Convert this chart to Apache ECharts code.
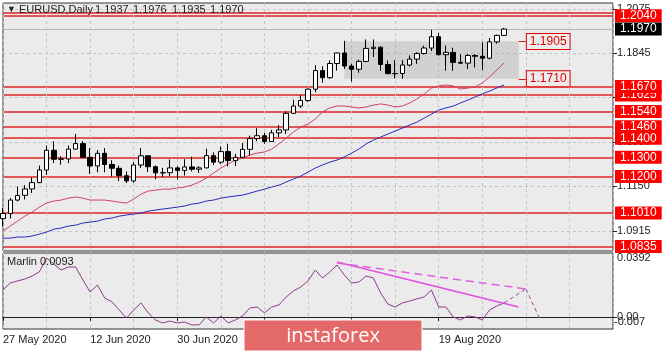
<!DOCTYPE html>
<html>
<head>
<meta charset="utf-8">
<script src="https://cdn.jsdelivr.net/npm/echarts@6/dist/echarts.min.js"></script>
<style>
html, body { margin: 0; padding: 0; background: #fff; }
#chart { width: 665px; height: 351px; }
</style>
</head>
<body>
<div id="chart"></div>
<script>
var categories = [
  "27 May 2020", "28 May 2020", "29 May 2020", "1 Jun 2020", "2 Jun 2020", "3 Jun 2020", "4 Jun 2020", "5 Jun 2020", "8 Jun 2020", "9 Jun 2020",
  "10 Jun 2020", "11 Jun 2020", "12 Jun 2020", "15 Jun 2020", "16 Jun 2020", "17 Jun 2020", "18 Jun 2020", "19 Jun 2020", "22 Jun 2020", "23 Jun 2020",
  "24 Jun 2020", "25 Jun 2020", "26 Jun 2020", "29 Jun 2020", "30 Jun 2020", "1 Jul 2020", "2 Jul 2020", "3 Jul 2020", "6 Jul 2020", "7 Jul 2020",
  "8 Jul 2020", "9 Jul 2020", "10 Jul 2020", "13 Jul 2020", "14 Jul 2020", "15 Jul 2020", "16 Jul 2020", "17 Jul 2020", "20 Jul 2020", "21 Jul 2020",
  "22 Jul 2020", "23 Jul 2020", "24 Jul 2020", "27 Jul 2020", "28 Jul 2020", "29 Jul 2020", "30 Jul 2020", "31 Jul 2020", "3 Aug 2020", "4 Aug 2020",
  "5 Aug 2020", "6 Aug 2020", "7 Aug 2020", "10 Aug 2020", "11 Aug 2020", "12 Aug 2020", "13 Aug 2020", "14 Aug 2020", "17 Aug 2020", "18 Aug 2020",
  "19 Aug 2020", "20 Aug 2020", "21 Aug 2020", "24 Aug 2020", "25 Aug 2020", "26 Aug 2020", "27 Aug 2020", "28 Aug 2020", "31 Aug 2020", "1 Sep 2020",
  "2 Sep 2020", "3 Sep 2020", "4 Sep 2020", "7 Sep 2020", "8 Sep 2020", "9 Sep 2020", "10 Sep 2020", "11 Sep 2020", "14 Sep 2020", "15 Sep 2020",
  "16 Sep 2020", "17 Sep 2020", "18 Sep 2020", "21 Sep 2020", "22 Sep 2020"
];
var lastBar = 69;

var opens = [
  1.0980, 1.1007, 1.1077, 1.1102, 1.1135, 1.1168, 1.1234, 1.1337, 1.1290, 1.1292,
  1.1343, 1.1372, 1.1300, 1.1255, 1.1321, 1.1263, 1.1243, 1.1204, 1.1177, 1.1260,
  1.1308, 1.1251, 1.1219, 1.1220, 1.1245, 1.1232, 1.1250, 1.1238, 1.1245, 1.1309,
  1.1275, 1.1330, 1.1283, 1.1300, 1.1342, 1.1398, 1.1413, 1.1383, 1.1428, 1.1443,
  1.1530, 1.1568, 1.1597, 1.1656, 1.1753, 1.1716, 1.1790, 1.1845, 1.1777, 1.1760,
  1.1801, 1.1869, 1.1875, 1.1785, 1.1737, 1.1738, 1.1782, 1.1813, 1.1842, 1.1871,
  1.1930, 1.1836, 1.1848, 1.1796, 1.1792, 1.1832, 1.1828, 1.1818, 1.1903, 1.1937
];
var highs = [
  1.1035, 1.1088, 1.1147, 1.1155, 1.1195, 1.1257, 1.1362, 1.1384, 1.1306, 1.1362,
  1.1422, 1.1385, 1.1348, 1.1338, 1.1348, 1.1285, 1.1257, 1.1226, 1.1275, 1.1349,
  1.1309, 1.1258, 1.1245, 1.1289, 1.1254, 1.1290, 1.1303, 1.1254, 1.1346, 1.1326,
  1.1357, 1.1371, 1.1318, 1.1375, 1.1413, 1.1452, 1.1428, 1.1444, 1.1469, 1.1540,
  1.1601, 1.1625, 1.1660, 1.1781, 1.1776, 1.1806, 1.1847, 1.1908, 1.1789, 1.1810,
  1.1916, 1.1916, 1.1881, 1.1806, 1.1807, 1.1808, 1.1832, 1.1849, 1.1883, 1.1966,
  1.1951, 1.1884, 1.1873, 1.1838, 1.1840, 1.1839, 1.1900, 1.1924, 1.1941, 1.1976
];
var lows = [
  1.0940, 1.0981, 1.1070, 1.1080, 1.1114, 1.1165, 1.1208, 1.1270, 1.1262, 1.1270,
  1.1341, 1.1300, 1.1214, 1.1222, 1.1222, 1.1200, 1.1176, 1.1166, 1.1168, 1.1244,
  1.1224, 1.1185, 1.1198, 1.1201, 1.1185, 1.1205, 1.1227, 1.1219, 1.1243, 1.1260,
  1.1264, 1.1253, 1.1255, 1.1297, 1.1309, 1.1385, 1.1371, 1.1380, 1.1404, 1.1422,
  1.1526, 1.1558, 1.1589, 1.1640, 1.1690, 1.1710, 1.1753, 1.1762, 1.1696, 1.1742,
  1.1796, 1.1824, 1.1752, 1.1735, 1.1712, 1.1711, 1.1775, 1.1788, 1.1837, 1.1856,
  1.1832, 1.1753, 1.1752, 1.1787, 1.1761, 1.1769, 1.1756, 1.1812, 1.1893, 1.1935
];
var closes = [
  1.1007, 1.1077, 1.1101, 1.1135, 1.1168, 1.1234, 1.1337, 1.1290, 1.1292, 1.1343,
  1.1372, 1.1300, 1.1255, 1.1321, 1.1263, 1.1243, 1.1204, 1.1177, 1.1260, 1.1308,
  1.1251, 1.1219, 1.1220, 1.1245, 1.1232, 1.1250, 1.1238, 1.1245, 1.1309, 1.1275,
  1.1330, 1.1283, 1.1300, 1.1342, 1.1398, 1.1413, 1.1383, 1.1428, 1.1443, 1.1530,
  1.1568, 1.1597, 1.1656, 1.1753, 1.1716, 1.1790, 1.1845, 1.1777, 1.1760, 1.1801,
  1.1869, 1.1875, 1.1785, 1.1737, 1.1738, 1.1782, 1.1813, 1.1842, 1.1871, 1.1930,
  1.1836, 1.1848, 1.1796, 1.1792, 1.1832, 1.1828, 1.1818, 1.1903, 1.1937, 1.1970
];

// moving averages
var maFast = [
  1.0915, 1.0941, 1.0967, 1.0993, 1.1014, 1.1040, 1.1061, 1.1072, 1.1077, 1.1087,
  1.1093, 1.1087, 1.1077, 1.1077, 1.1077, 1.1072, 1.1066, 1.1061, 1.1082, 1.1108,
  1.1124, 1.1129, 1.1134, 1.1134, 1.1140, 1.1145, 1.1155, 1.1171, 1.1192, 1.1218,
  1.1244, 1.1265, 1.1286, 1.1296, 1.1312, 1.1322, 1.1328, 1.1343, 1.1370, 1.1401,
  1.1432, 1.1458, 1.1474, 1.1500, 1.1537, 1.1558, 1.1568, 1.1568, 1.1563, 1.1558,
  1.1563, 1.1573, 1.1579, 1.1573, 1.1563, 1.1568, 1.1584, 1.1605, 1.1631, 1.1662,
  1.1673, 1.1678, 1.1673, 1.1657, 1.1662, 1.1667, 1.1688, 1.1720, 1.1756, 1.1793
];
var maSlow = [
  1.0878, 1.0878, 1.0884, 1.0884, 1.0889, 1.0899, 1.0910, 1.0925, 1.0931, 1.0941,
  1.0946, 1.0957, 1.0962, 1.0967, 1.0978, 1.0983, 1.0993, 1.0999, 1.1004, 1.1009,
  1.1019, 1.1025, 1.1030, 1.1035, 1.1040, 1.1046, 1.1056, 1.1061, 1.1072, 1.1077,
  1.1087, 1.1093, 1.1098, 1.1103, 1.1113, 1.1124, 1.1134, 1.1145, 1.1155, 1.1171,
  1.1187, 1.1202, 1.1223, 1.1244, 1.1260, 1.1275, 1.1286, 1.1302, 1.1322, 1.1343,
  1.1370, 1.1390, 1.1406, 1.1422, 1.1437, 1.1453, 1.1469, 1.1484, 1.1505, 1.1526,
  1.1547, 1.1558, 1.1568, 1.1584, 1.1599, 1.1615, 1.1631, 1.1646, 1.1662, 1.1678
];

var marlin = [
  0.0179, 0.0226, 0.0239, 0.0252, 0.0272, 0.0299, 0.0392, 0.0352, 0.0312, 0.0332,
  0.0332, 0.0246, 0.0166, 0.0212, 0.0126, 0.0100, 0.0046, -0.0007, 0.0046, 0.0093,
  0.0027, -0.0020, -0.0040, -0.0027, -0.0040, -0.0033, -0.0053, -0.0053, 0.0000, -0.0040,
  0.0007, -0.0040, -0.0020, 0.0007, 0.0060, 0.0066, 0.0027, 0.0066, 0.0080, 0.0133,
  0.0173, 0.0199, 0.0239, 0.0312, 0.0259, 0.0299, 0.0345, 0.0279, 0.0226, 0.0232,
  0.0272, 0.0259, 0.0159, 0.0086, 0.0066, 0.0093, 0.0106, 0.0120, 0.0133, 0.0179,
  0.0066, 0.0066, 0.0000, -0.0020, 0.0007, 0.0000, -0.0020, 0.0046, 0.0073, 0.0093
];

var levels = [1.2040, 1.1670, 1.1625, 1.1540, 1.1460, 1.1400, 1.1300, 1.1200, 1.1010, 1.0835];
var topLine = 1.2054;
var lastPrice = 1.1970;
var boxTop = 1.1905;
var boxBottom = 1.1710;
var priceTicks = [1.0915, 1.1150, 1.1380, 1.1615, 1.1845, 1.2075];
var marlinTicks = [0, 0.0392];
var marlinLow = -0.007;

// header texts
var headerTitle = "EURUSD,Daily";
var headerQuotes = ["1.1937", "1.1976", "1.1935", "1.1970"];
var marlinTitle = "Marlin 0.0093";

// trend lines drawn on the oscillator: [fromBar, fromValue, toBar, toValue]
var marlinSolid = [46, 0.0365, 71, 0.0066];
var marlinDashed = [46, 0.0359, 72, 0.0186];
var marlinForecast = [[69, 0.0093], [72, 0.0186], [74, -0.0020]];

var fontName = "Liberation Sans, Arial, sans-serif";
var priceMin = 1.0811;
var priceMax = 1.2106;
var marlinMin = -0.008;
var marlinMax = 0.0425;

function drawChart() {
  var myChart = echarts.init(document.getElementById("chart"));

  var candles = [];
  for (var i = 0; i < opens.length; i++) {
    candles.push([opens[i], closes[i], lows[i], highs[i]]);
  }

  var boxLabel = function (v) {
    return {
      show: true,
      position: "end",
      distance: 1,
      formatter: v.toFixed(4),
      color: "#e00000",
      backgroundColor: "#ececec",
      borderColor: "#e00000",
      borderWidth: 1,
      padding: [2, 3, 1, 3],
      fontSize: 12,
      fontFamily: fontName
    };
  };

  var forecastLines = [];
  for (var f = 0; f < marlinForecast.length - 1; f++) {
    forecastLines.push([
      { coord: marlinForecast[f], lineStyle: { color: "#a04ca0", width: 1, type: [4, 3] } },
      { coord: marlinForecast[f + 1] }
    ]);
  }

  var dashed = { color: "#c4c4c4", type: [3, 3], width: 1 };
  var sixBars = function (index) { return index % 6 === 0; };
  var labelBars = function (index) { return index % 12 === 0 && index <= lastBar; };

  // lower tags first so the upper one of a close pair sits on top
  var levelsUp = levels.slice().sort(function (a, b) { return a - b; });

  // price axis clones used for the horizontal levels and their right-hand tags
  var tagAxis = function (values, labelValues, lineColor, lineWidth, tagColor) {
    return {
      type: "value",
      gridIndex: 0,
      position: "right",
      min: priceMin,
      max: priceMax,
      axisLine: { show: false },
      axisTick: { show: false, customValues: values },
      axisLabel: {
        customValues: labelValues,
        hideOverlap: false,
        margin: 2,
        color: "#ffffff",
        backgroundColor: tagColor,
        padding: [1, 5, 0, 5],
        fontSize: 12,
        lineHeight: 12,
        fontFamily: fontName,
        formatter: function (v) { return v.toFixed(4); }
      },
      splitLine: { show: true, lineStyle: { color: lineColor, width: lineWidth, type: "solid" } }
    };
  };

  var headerText = [
    { type: "text", left: 7, top: 5, z: 10, style: { text: "\u25BC", fill: "#222", font: "9px " + fontName } },
    { type: "text", left: 19, top: 4, z: 10, style: { text: headerTitle, fill: "#222", font: "11px " + fontName } }
  ];
  var quoteLeft = [95, 133, 172, 210];
  for (var q = 0; q < headerQuotes.length; q++) {
    headerText.push({
      type: "text", left: quoteLeft[q], top: 4, z: 10,
      style: { text: headerQuotes[q], fill: "#222", font: "11px " + fontName }
    });
  }

  myChart.setOption({
    animation: false,
    backgroundColor: "#ffffff",
    textStyle: { fontFamily: fontName },
    grid: [
      { left: 3, right: 52, top: 3, height: 248, show: true, backgroundColor: "#ebebeb", borderColor: "#333", borderWidth: 1 },
      { left: 3, right: 52, top: 253, height: 76, show: true, backgroundColor: "#ebebeb", borderColor: "#333", borderWidth: 1 }
    ],
    xAxis: [
      {
        type: "category",
        gridIndex: 0,
        data: categories,
        boundaryGap: false,
        axisLine: { show: false },
        axisTick: { show: false },
        axisLabel: { show: false },
        splitLine: { show: true, interval: sixBars, lineStyle: dashed }
      },
      {
        type: "category",
        gridIndex: 1,
        data: categories,
        boundaryGap: false,
        axisLine: { show: true, lineStyle: { color: "#222" } },
        axisTick: { show: true, length: 4, interval: labelBars, lineStyle: { color: "#222" } },
        axisLabel: {
          show: true,
          interval: labelBars,
          align: "left",
          margin: 5,
          color: "#222",
          fontSize: 11
        },
        splitLine: { show: true, interval: sixBars, lineStyle: dashed }
      }
    ],
    yAxis: [
      {
        type: "value",
        gridIndex: 0,
        position: "right",
        min: priceMin,
        max: priceMax,
        axisLine: { show: false },
        axisTick: { show: true, length: 4, customValues: priceTicks, lineStyle: { color: "#222" } },
        axisLabel: {
          customValues: priceTicks,
          hideOverlap: false,
          margin: 4,
          color: "#222",
          fontSize: 11,
          formatter: function (v) { return v.toFixed(4); }
        },
        splitLine: { show: true, lineStyle: dashed }
      },
      {
        type: "value",
        gridIndex: 1,
        position: "right",
        min: marlinMin,
        max: marlinMax,
        axisLine: { show: false },
        axisTick: { show: true, length: 4, customValues: [0], lineStyle: { color: "#222" } },
        axisLabel: {
          customValues: marlinTicks,
          hideOverlap: false,
          margin: 4,
          color: "#222",
          fontSize: 11,
          formatter: function (v) { return v === 0 ? "0.00" : v.toFixed(4); }
        },
        splitLine: { show: true, lineStyle: dashed }
      },
      tagAxis([topLine].concat(levelsUp), levelsUp, "rgba(226,60,60,0.85)", 2, "#ff0000"),
      tagAxis([lastPrice], [lastPrice], "#b4b4b4", 1, "#000000"),
      {
        type: "value",
        gridIndex: 1,
        position: "right",
        min: marlinMin,
        max: marlinMax,
        axisLine: { show: false },
        axisTick: { show: false, customValues: [marlinLow] },
        splitLine: { show: false },
        axisLabel: {
          customValues: [marlinLow],
          hideOverlap: false,
          showMinLabel: true,
          margin: 1,
          verticalAlign: "bottom",
          color: "#222",
          fontSize: 11,
          formatter: function (v) { return v.toFixed(3); }
        }
      }
    ],
    series: [
      {
        name: "EURUSD",
        type: "candlestick",
        xAxisIndex: 0,
        yAxisIndex: 0,
        data: candles,
        barWidth: 5,
        z: 4,
        itemStyle: {
          color: "#ffffff",
          color0: "#000000",
          borderColor: "#000000",
          borderColor0: "#000000",
          borderWidth: 1
        },
        markArea: {
          silent: true,
          itemStyle: { color: "rgba(150,150,150,0.3)" },
          data: [[
            { xAxis: categories[47], yAxis: boxTop },
            { xAxis: categories[71], yAxis: boxBottom }
          ]]
        }
      },
      {
        name: "MA fast",
        type: "line",
        xAxisIndex: 0,
        yAxisIndex: 0,
        data: maFast,
        symbol: "none",
        lineStyle: { color: "#d0406a", width: 1 },
        markLine: {
          silent: true,
          symbol: ["none", "none"],
          lineStyle: { color: "#e02020", width: 1, type: "solid" },
          data: [
            [{ coord: [71, boxTop], label: boxLabel(boxTop) }, { coord: [72, boxTop] }],
            [{ coord: [71, boxBottom], label: boxLabel(boxBottom) }, { coord: [72, boxBottom] }]
          ]
        }
      },
      {
        name: "MA slow",
        type: "line",
        xAxisIndex: 0,
        yAxisIndex: 0,
        data: maSlow,
        symbol: "none",
        lineStyle: { color: "#2a2ac0", width: 1 }
      },
      {
        name: "Marlin",
        type: "line",
        xAxisIndex: 1,
        yAxisIndex: 1,
        data: marlin,
        symbol: "none",
        lineStyle: { color: "#8c3a8c", width: 1 },
        markLine: {
          silent: true,
          symbol: ["none", "none"],
          label: { show: false },
          data: [
            [
              { coord: [marlinSolid[0], marlinSolid[1]], lineStyle: { color: "#e050e0", width: 1.5, type: "solid" } },
              { coord: [marlinSolid[2], marlinSolid[3]] }
            ],
            [
              { coord: [marlinDashed[0], marlinDashed[1]], lineStyle: { color: "#e060e0", width: 1.5, type: [8, 5] } },
              { coord: [marlinDashed[2], marlinDashed[3]] }
            ]
          ].concat(forecastLines)
        }
      }
    ],
    graphic: headerText.concat([
      {
        type: "text",
        left: 7,
        top: 256,
        z: 10,
        style: { text: marlinTitle, fill: "#222", font: "11px " + fontName }
      },
      {
        type: "rect",
        zlevel: 1,
        shape: { x: 244, y: 320, width: 178, height: 31 },
        style: { fill: "#e46a6a", stroke: "#ffffff", lineWidth: 1 }
      },
      {
        type: "text",
        zlevel: 1,
        x: 333,
        y: 336,
        style: {
          text: "instaforex",
          fill: "#ffffff",
          font: "20px 'Open Sans', sans-serif",
          align: "center",
          verticalAlign: "middle"
        }
      }
    ])
  });
}

drawChart();
</script>
</body>
</html>
